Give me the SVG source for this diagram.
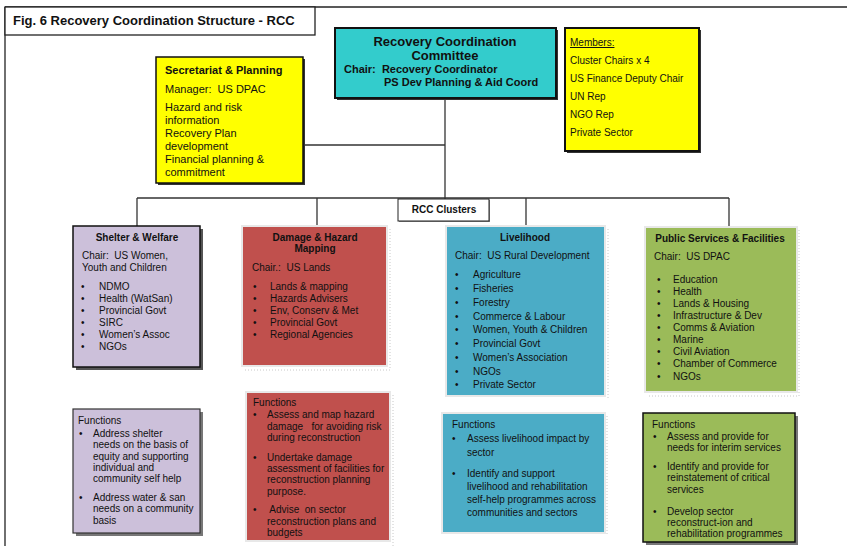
<svg xmlns="http://www.w3.org/2000/svg" width="847" height="546" viewBox="0 0 847 546">
<style>
text{font-family:"Liberation Sans",Arial,sans-serif;font-size:10px;fill:#111}
.b{font-weight:bold}
.t{font-size:13px;font-weight:bold}
.s11{font-size:11px}
.c{text-anchor:middle}
.pre{white-space:pre}
.ln{stroke:#333;stroke-width:1.3;fill:none}
.frame{fill:none;stroke:#e8e8e8;stroke-width:2}
.dot{stroke:#c8c8c8;stroke-width:1;stroke-dasharray:1,2;fill:none}
</style>
<rect width="847" height="546" fill="#fff"/>
<g id="frame">
<line x1="5" y1="7" x2="847" y2="7" stroke="#222" stroke-width="1.3"/>
<line x1="5" y1="7" x2="5" y2="546" stroke="#222" stroke-width="1.3"/>
<rect x="5" y="7" width="310" height="28" fill="#fff" stroke="#222" stroke-width="1.3"/>
<text x="13" y="25" class="t">Fig. 6 Recovery Coordination Structure - RCC</text>
</g>
<g id="connectors">
<line class="ln" x1="303" y1="145" x2="445" y2="145"/>
<line class="ln" x1="445" y1="98" x2="445" y2="199"/>
<line class="ln" x1="137" y1="198" x2="729" y2="198"/>
<line class="ln" x1="137" y1="198" x2="137" y2="226"/>
<line class="ln" x1="317" y1="198" x2="317" y2="227"/>
<line class="ln" x1="526" y1="198" x2="526" y2="227"/>
<line class="ln" x1="729" y1="198" x2="729" y2="228"/>
</g>
<g id="secretariat">
<rect x="158" y="59" width="147" height="126" fill="#333"/>
<rect x="156" y="57" width="147" height="126" fill="#FFFF00" stroke="#111" stroke-width="1.5"/>
<text x="165" y="74" class="b s11">Secretariat &amp; Planning</text>
<text x="165" y="93" class="s11 pre">Manager:  US DPAC</text>
<text x="165" y="111" class="s11">Hazard and risk</text>
<text x="165" y="124" class="s11">information</text>
<text x="165" y="137" class="s11">Recovery Plan</text>
<text x="165" y="150" class="s11">development</text>
<text x="165" y="163" class="s11">Financial planning &amp;</text>
<text x="165" y="176" class="s11">commitment</text>
</g>
<g id="rcc">
<rect x="337" y="30" width="221" height="70" fill="#333"/>
<rect x="335" y="28" width="221" height="70" fill="#33CCCC" stroke="#111" stroke-width="2"/>
<text x="445" y="46" class="t c">Recovery Coordination</text>
<text x="445" y="60" class="t c">Committee</text>
<text x="344" y="73" class="b s11 pre">Chair:  Recovery Coordinator</text>
<text x="384" y="86" class="b s11">PS Dev Planning &amp; Aid Coord</text>
</g>
<g id="members">
<rect x="567" y="30" width="134" height="123" fill="#333"/>
<rect x="565" y="28" width="134" height="123" fill="#FFFF00" stroke="#111" stroke-width="2"/>
<text x="570" y="46" text-decoration="underline">Members:</text>
<text x="570" y="64">Cluster Chairs x 4</text>
<text x="570" y="82">US Finance Deputy Chair</text>
<text x="570" y="100">UN Rep</text>
<text x="570" y="118">NGO Rep</text>
<text x="570" y="136">Private Sector</text>
</g>
<g id="rcc-clusters">
<rect x="399" y="200" width="91" height="22" fill="#888"/>
<rect x="398" y="199" width="91" height="22" fill="#fff" stroke="#222" stroke-width="1"/>
<text x="444" y="213" class="b c">RCC Clusters</text>
</g>
<g id="shelter">
<rect x="76" y="229" width="127" height="141" fill="#555"/>
<rect x="73" y="226" width="127" height="141" fill="#CCC0DA" stroke="#111" stroke-width="1.5"/>
<text x="137" y="241" class="b c">Shelter &amp; Welfare</text>
<text x="82" y="259" class="pre">Chair:  US Women,</text>
<text x="82" y="271">Youth and Children</text>
<g>
<text x="81" y="290">•</text><text x="99" y="290">NDMO</text>
<text x="81" y="302">•</text><text x="99" y="302">Health (WatSan)</text>
<text x="81" y="314">•</text><text x="99" y="314">Provincial Govt</text>
<text x="81" y="326">•</text><text x="99" y="326">SIRC</text>
<text x="81" y="338">•</text><text x="99" y="338">Women’s Assoc</text>
<text x="81" y="350">•</text><text x="99" y="350">NGOs</text>
</g>
</g>
<g id="damage">
<rect class="frame" x="242" y="226" width="145" height="140"/>
<polyline class="dot" points="390,229 390,370 245,370"/>
<rect x="243" y="227" width="143" height="138" fill="#C0504D"/>
<text x="315" y="241" class="b c">Damage &amp; Hazard</text>
<text x="315" y="252" class="b c">Mapping</text>
<text x="252" y="271" class="pre">Chair.:  US Lands</text>
<text x="253" y="290">•</text><text x="270" y="290">Lands &amp; mapping</text>
<text x="253" y="302">•</text><text x="270" y="302">Hazards Advisers</text>
<text x="253" y="314">•</text><text x="270" y="314">Env, Conserv &amp; Met</text>
<text x="253" y="326">•</text><text x="270" y="326">Provincial Govt</text>
<text x="253" y="338">•</text><text x="270" y="338">Regional Agencies</text>
</g>
<g id="livelihood">
<rect class="frame" x="446" y="226" width="159" height="170"/>
<polyline class="dot" points="608,229 608,399"/>
<rect x="447" y="227" width="157" height="168" fill="#4BACC6"/>
<text x="525" y="241" class="b c">Livelihood</text>
<text x="455" y="259" class="pre">Chair:  US Rural Development</text>
<text x="455" y="278">•</text><text x="473" y="278">Agriculture</text>
<text x="455" y="292">•</text><text x="473" y="292">Fisheries</text>
<text x="455" y="306">•</text><text x="473" y="306">Forestry</text>
<text x="455" y="320">•</text><text x="473" y="320">Commerce &amp; Labour</text>
<text x="455" y="333">•</text><text x="473" y="333">Women, Youth &amp; Children</text>
<text x="455" y="347">•</text><text x="473" y="347">Provincial Govt</text>
<text x="455" y="361">•</text><text x="473" y="361">Women’s Association</text>
<text x="455" y="375">•</text><text x="473" y="375">NGOs</text>
<text x="455" y="388">•</text><text x="473" y="388">Private Sector</text>
</g>
<g id="public">
<rect class="frame" x="645" y="227" width="152" height="165"/>
<polyline class="dot" points="799,230 799,396 648,396"/>
<rect x="646" y="228" width="150" height="163" fill="#9BBB59"/>
<text x="720" y="242" class="b c">Public Services &amp; Facilities</text>
<text x="654" y="260" class="pre">Chair:  US DPAC</text>
<text x="657" y="283">•</text><text x="673" y="283">Education</text>
<text x="657" y="295">•</text><text x="673" y="295">Health</text>
<text x="657" y="307">•</text><text x="673" y="307">Lands &amp; Housing</text>
<text x="657" y="319">•</text><text x="673" y="319">Infrastructure &amp; Dev</text>
<text x="657" y="331">•</text><text x="673" y="331">Comms &amp; Aviation</text>
<text x="657" y="343">•</text><text x="673" y="343">Marine</text>
<text x="657" y="355">•</text><text x="673" y="355">Civil Aviation</text>
<text x="657" y="367">•</text><text x="673" y="367">Chamber of Commerce</text>
<text x="657" y="380">•</text><text x="673" y="380">NGOs</text>
</g>
<g id="shelter-functions">
<rect x="76" y="412" width="127" height="124" fill="#777"/>
<rect x="73" y="409" width="127" height="124" fill="#CCC0DA" stroke="#333" stroke-width="1.2"/>
<text x="78" y="424">Functions</text>
<text x="79" y="437">•</text>
<text x="93" y="437">Address shelter</text>
<text x="93" y="448">needs on the basis of</text>
<text x="93" y="460">equity and supporting</text>
<text x="93" y="471">individual and</text>
<text x="93" y="482">community self help</text>
<text x="79" y="501">•</text>
<text x="93" y="501">Address water &amp; san</text>
<text x="93" y="512">needs on a community</text>
<text x="93" y="524">basis</text>
</g>
<g id="damage-functions">
<rect class="frame" x="246" y="392" width="144" height="149"/>
<polyline class="dot" points="393,395 393,546"/>
<rect x="247" y="393" width="142" height="147" fill="#C0504D"/>
<text x="253" y="406">Functions</text>
<text x="253" y="418">•</text>
<text x="267" y="418">Assess and map hazard</text>
<text x="267" y="430" class="pre">damage   for avoiding risk</text>
<text x="267" y="441">during reconstruction</text>
<text x="253" y="461">•</text>
<text x="267" y="461">Undertake damage</text>
<text x="267" y="472">assessment of facilities for</text>
<text x="267" y="483">reconstruction planning</text>
<text x="267" y="495">purpose.</text>
<text x="253" y="513">•</text>
<text x="267" y="513" class="pre"> Advise  on sector</text>
<text x="267" y="525">reconstruction plans and</text>
<text x="267" y="536">budgets</text>
</g>
<g id="livelihood-functions">
<rect class="frame" x="442" y="413" width="163" height="120"/>
<polyline class="dot" points="607,416 607,535"/>
<rect x="443" y="414" width="161" height="118" fill="#4BACC6"/>
<text x="452" y="428">Functions</text>
<text x="452" y="442">•</text>
<text x="467" y="442">Assess livelihood impact by</text>
<text x="467" y="456">sector</text>
<text x="452" y="477">•</text>
<text x="467" y="477">Identify and support</text>
<text x="467" y="490">livelihood and rehabilitation</text>
<text x="467" y="503">self-help programmes across</text>
<text x="467" y="516">communities and sectors</text>
</g>
<g id="public-functions">
<rect x="646" y="416" width="152" height="129" fill="#777"/>
<rect x="643" y="413" width="152" height="129" fill="#9BBB59" stroke="#111" stroke-width="1.5"/>
<text x="652" y="428">Functions</text>
<text x="653" y="440">•</text>
<text x="667" y="440">Assess and provide for</text>
<text x="667" y="451">needs for interim services</text>
<text x="653" y="470">•</text>
<text x="667" y="470">Identify and provide for</text>
<text x="667" y="481">reinstatement of critical</text>
<text x="667" y="493">services</text>
<text x="653" y="515">•</text>
<text x="667" y="515">Develop sector</text>
<text x="667" y="526">reconstruct-ion and</text>
<text x="667" y="537">rehabilitation programmes</text>
</g>
</svg>
